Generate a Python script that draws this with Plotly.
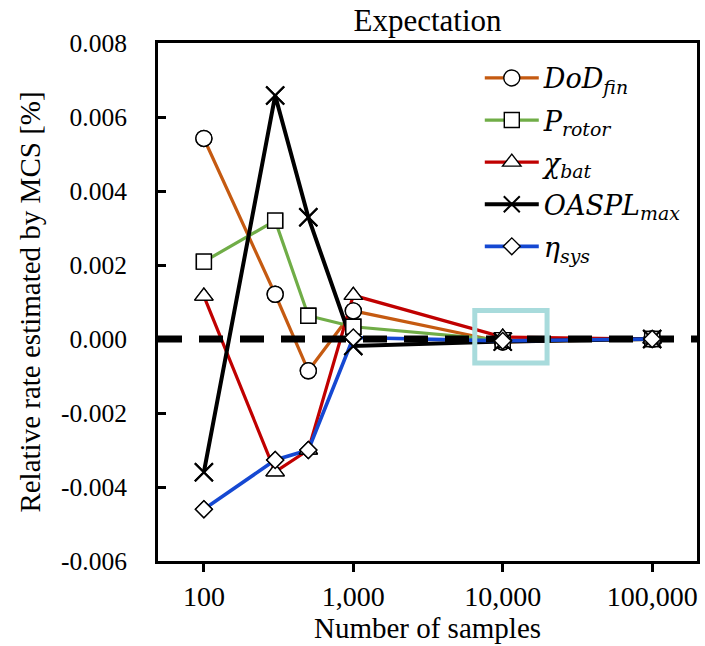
import plotly.graph_objects as go

# Number of Monte Carlo samples
samples = [100, 300, 500, 1000, 10000, 100000]

# Relative rate of each output estimated by MCS [%]
dod_fin = [0.00542, 0.00121, -0.00086, 0.00076, -0.00008, 0.0]
p_rotor = [0.00209, 0.00320, 0.00063, 0.00033, -0.00003, 0.0]
chi_bat = [0.00116, -0.00359, -0.00300, 0.00118, 0.00005, 0.0]
oaspl_max = [-0.00360, 0.00658, 0.00329, -0.00019, -0.00007, 0.0]
eta_sys = [-0.00460, -0.00327, -0.00300, 0.00004, -0.00005, 0.0]

series_names = [
    "<i>DoD</i><sub><i>fin</i></sub>",
    "<i>P</i><sub><i>rotor</i></sub>",
    "<i>χ</i><sub><i>bat</i></sub>",
    "<i>OASPL</i><sub><i>max</i></sub>",
    "<i>η</i><sub><i>sys</i></sub>",
]
series_values = [dod_fin, p_rotor, chi_bat, oaspl_max, eta_sys]

# Axis ticks
x_tickvals = [100, 1000, 10000, 100000]
x_ticktext = ["100", "1,000", "10,000", "100,000"]
y_tickvals = [0.008, 0.006, 0.004, 0.002, 0.0, -0.002, -0.004, -0.006]
y_ticktext = ["0.008", "0.006", "0.004", "0.002", "0.000", "-0.002", "-0.004", "-0.006"]

# Reference level and converged-region box
reference_level = 0.0
box_samples = [6500, 19800]
box_rate = [-0.00065, 0.00077]

# Styling
line_colors = ["#C55A11", "#70AD47", "#C00000", "#000000", "#1548D2"]
line_widths = [3.2, 3.2, 3.2, 4, 3.6]
marker_symbols = ["circle", "square", "triangle-up", "x-thin", "diamond"]
marker_sizes = [16, 15, 16, 18, 13]
x_range_log = [1.693, 5.30]
y_range = [-0.006, 0.008]

fig = go.Figure()

for name, vals, col, lw, sym, ms in zip(series_names, series_values, line_colors,
                                         line_widths, marker_symbols, marker_sizes):
    fig.add_trace(go.Scatter(
        x=samples, y=vals, name=name, legendgroup=name,
        mode="lines+markers",
        line=dict(color=col, width=lw),
        marker=dict(symbol=sym, size=ms, color="white",
                    line=dict(color="black", width=2 if sym == "x-thin" else 1.4)),
    ))

# dashed zero reference line across the full axis width
fig.add_trace(go.Scatter(
    x=[10 ** x_range_log[0], 10 ** x_range_log[1]],
    y=[reference_level, reference_level],
    mode="lines", showlegend=False, hoverinfo="skip",
    line=dict(color="black", width=7, dash="24px,17px"),
))

# markers redrawn above the reference line
for name, vals, sym, ms in zip(series_names, series_values, marker_symbols, marker_sizes):
    fig.add_trace(go.Scatter(
        x=samples, y=vals, mode="markers", showlegend=False, hoverinfo="skip",
        marker=dict(symbol=sym, size=ms, color="white",
                    line=dict(color="black", width=2 if sym == "x-thin" else 1.4)),
    ))

fig.add_shape(
    type="rect", xref="x", yref="y",
    x0=box_samples[0], x1=box_samples[1], y0=box_rate[0], y1=box_rate[1],
    line=dict(color="#A8DBDC", width=5), fillcolor="rgba(0,0,0,0)", layer="above",
)

serif = "Liberation Serif, Times New Roman, serif"

fig.update_layout(
    width=705, height=646,
    margin=dict(l=158, r=5, t=43, b=85),
    paper_bgcolor="white", plot_bgcolor="white",
    font=dict(family=serif, color="black"),
    title=dict(text="Expectation", font=dict(size=31, family=serif),
               x=0.5, xref="paper", xanchor="center",
               y=1 - 20 / 646, yref="container", yanchor="middle"),
    showlegend=True,
    legend=dict(
        x=0.597, y=0.979, xanchor="left", yanchor="top",
        font=dict(size=27, family="DejaVu Serif, serif"),
        bgcolor="rgba(0,0,0,0)", borderwidth=0,
        traceorder="grouped", tracegroupgap=4, itemwidth=54,
    ),
    xaxis=dict(
        type="log", range=x_range_log,
        tickmode="array", tickvals=x_tickvals, ticktext=x_ticktext,
        tickfont=dict(size=28, family=serif),
        ticks="outside", ticklen=8, tickwidth=3, tickcolor="black",
        showline=True, linecolor="black", linewidth=3, mirror=True,
        showgrid=False, zeroline=False,
        title=dict(text="Number of samples", font=dict(size=29, family=serif), standoff=6),
    ),
    yaxis=dict(
        range=y_range,
        tickmode="array", tickvals=y_tickvals, ticktext=y_ticktext,
        tickfont=dict(size=25.5, family=serif),
        ticks="inside", ticklen=8, tickwidth=3, tickcolor="black",
        ticklabelstandoff=23,
        showline=True, linecolor="black", linewidth=3, mirror=True,
        showgrid=False, zeroline=False,
        title=dict(text="Relative rate estimated by MCS [%]",
                   font=dict(size=29, family=serif), standoff=12),
    ),
)

fig.write_html("out.html")
